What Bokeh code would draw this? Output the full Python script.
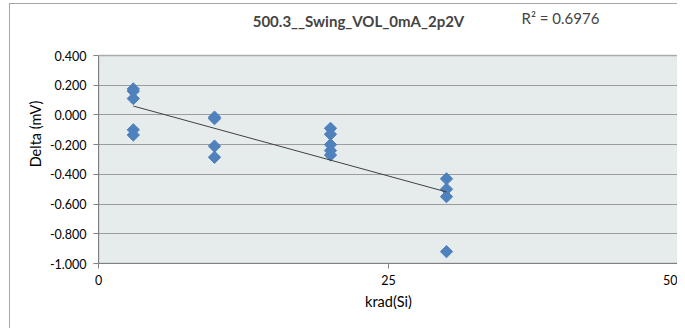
import numpy as np
from bokeh.plotting import figure
from bokeh.models import (Label, Range1d, FixedTicker, NumeralTickFormatter,
                          ColumnDataSource, BoxAnnotation)
from bokeh.embed import file_html
from bokeh.resources import INLINE

title_text = "500.3__Swing_VOL_0mA_2p2V"
r2_text = "R² = 0.6976"
x_label = "krad(Si)"
y_label = "Delta (mV)"

dose = [3, 3, 3, 3, 3,
        10, 10, 10, 10,
        20, 20, 20, 20, 20,
        30, 30, 30, 30]
delta = [0.175, 0.160, 0.110, -0.100, -0.135,
         -0.015, -0.025, -0.210, -0.285,
         -0.090, -0.130, -0.200, -0.240, -0.270,
         -0.430, -0.500, -0.550, -0.920]
x_ticks = [0, 25, 50]
y_ticks = [0.4, 0.2, 0.0, -0.2, -0.4, -0.6, -0.8, -1.0]
x_min, x_max = 0, 50
y_min, y_max = -1.0, 0.4

FONT = "Lato"

# layout in pixels (canvas origin is offset by the CSS margin + border)
plot_top_px, plot_bottom_px = 51, 259   # plot area inside the canvas
px_per_unit = (y_max - y_min) / (plot_bottom_px - plot_top_px)
y_top = y_max + plot_top_px * px_per_unit   # frame reaches the canvas top

p = figure(width=668, height=325, output_backend="svg", toolbar_location=None,
           x_range=Range1d(x_min, x_max), y_range=Range1d(y_min, y_top),
           min_border_left=88, min_border_right=0, min_border_top=0,
           min_border_bottom=325 - plot_bottom_px)
p.styles = {"margin-left": "9px", "margin-top": "3px",
            "border-left": "1px solid #A6A6A6", "border-top": "1px solid #A6A6A6"}

p.background_fill_color = "white"
p.border_fill_color = "white"
p.outline_line_color = None

# plot area
p.add_layout(BoxAnnotation(left=x_min, right=x_max, bottom=y_min, top=y_max,
                           fill_color="#E6ECEC", fill_alpha=1.0,
                           line_color=None, level="image"))

p.xgrid.grid_line_color = None
p.ygrid.grid_line_color = "#9C9C9C"
p.ygrid.grid_line_width = 1
p.ygrid.ticker = FixedTicker(ticks=y_ticks[1:-1])

p.add_layout(BoxAnnotation(left=x_min, right=x_max, bottom=y_min, top=y_max,
                           fill_color=None, fill_alpha=0,
                           line_color="black", line_width=1.5, level="underlay"))

p.xaxis.ticker = FixedTicker(ticks=x_ticks)
p.yaxis.ticker = FixedTicker(ticks=y_ticks)
p.yaxis.bounds = (y_min, y_max)
p.yaxis.formatter = NumeralTickFormatter(format="0.000")
for ax in (p.xaxis, p.yaxis):
    ax.axis_line_color = "#808080"
    ax.major_tick_line_color = "#808080"
    ax.major_tick_out = 5
    ax.major_tick_in = 0
    ax.minor_tick_line_color = None
    ax.major_label_text_font = FONT
    ax.major_label_text_font_size = "12.5px"
    ax.major_label_text_color = "black"
    ax.axis_label_text_font = FONT
    ax.axis_label_text_font_size = "14.5px"
    ax.axis_label_text_font_style = "normal"
    ax.axis_label_text_color = "black"
p.xaxis.axis_label = x_label
p.yaxis.axis_label = y_label
p.xaxis.major_label_standoff = 6
p.yaxis.major_label_standoff = 7
p.xaxis.axis_label_standoff = 5
p.yaxis.axis_label_standoff = 3

src = ColumnDataSource(dict(x=dose, y=delta))
p.scatter("x", "y", source=src, marker="square", angle=np.pi / 4, size=8.7,
          fill_color="#4F81BD", line_color="#4F81BD")

slope, intercept = np.polyfit(dose, delta, 1)
xl = np.array([min(dose), max(dose)])
p.line(xl, slope * xl + intercept, line_color="#404040", line_width=1)

x_per_px = (x_max - x_min) / 580.0
p.add_layout(Label(x=x_min + (358 - 98) * x_per_px, y=y_max + (55 - 20) * px_per_unit,
                   text=title_text, text_font=FONT, text_font_size="15px",
                   text_font_style="bold", text_align="center", text_baseline="middle"))
p.add_layout(Label(x=x_min + (521 - 98) * x_per_px, y=y_max + (55 - 17) * px_per_unit,
                   text=r2_text, text_font=FONT, text_font_size="15px",
                   text_align="left", text_baseline="middle"))

open("out.html", "w").write(file_html(p, INLINE))
